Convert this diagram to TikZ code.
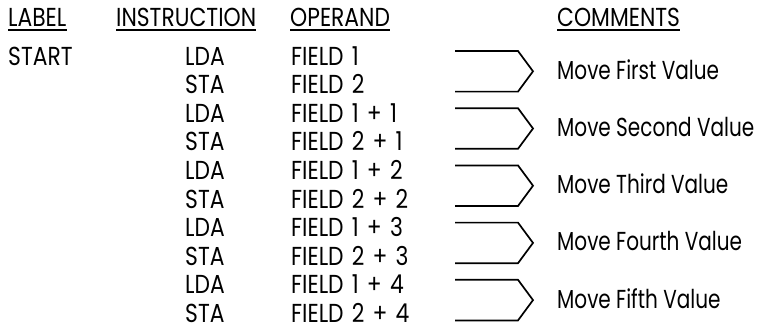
\documentclass[tikz,border=0pt]{standalone}
\usepackage{fontspec}
\setmainfont{Poppins}[FakeStretch=0.84]
\newfontfamily\opfont{Poppins}[FakeStretch=0.84, WordSpace=1.4]
\newfontfamily\cmfont{Poppins}[FakeStretch=0.77]
\usetikzlibrary{calc}

\begin{document}
\begin{tikzpicture}[x=1pt, y=-1pt,
        head/.style={anchor=base west, inner sep=0pt, font=\fontsize{26}{30}\selectfont},
        entry/.style={anchor=base west, inner sep=0pt, font=\fontsize{26}{30}\selectfont},
        operand/.style={anchor=base west, inner sep=0pt, font=\opfont\fontsize{26}{30}\selectfont},
        comment/.style={anchor=base west, inner sep=0pt, font=\cmfont\fontsize{26}{30}\selectfont},
        rule/.style={line width=1.6pt},
        brace/.style={line width=1.7pt, line join=miter}
    ]
        \useasboundingbox (0,0) rectangle (770,330);

        % Column headings
        \node[head] (hlabel) at (8, 26) {LABEL};
        \node[head] (hinstr) at (116, 26) {INSTRUCTION};
        \node[head] (hoper) at (290, 26) {OPERAND};
        \node[head] (hcomm) at (557, 26) {COMMENTS};

        \draw[rule] ($(hlabel.base west)+(0,4)$) -- ($(hlabel.base east)+(0,4)$);
        \draw[rule] ($(hinstr.base west)+(0,4)$) -- ($(hinstr.base east)+(0,4)$);
        \draw[rule] ($(hoper.base west)+(0,4)$) -- ($(hoper.base east)+(0,4)$);
        \draw[rule] ($(hcomm.base west)+(0,4)$) -- ($(hcomm.base east)+(0,4)$);

        % Label
        \node[entry] (start) at (8, 65) {START};

        % Instructions
        \node[entry] (i1) at (185, 65) {LDA};
        \node[entry] (i2) at (185, 93.6) {STA};
        \node[entry] (i3) at (185, 122.2) {LDA};
        \node[entry] (i4) at (185, 150.8) {STA};
        \node[entry] (i5) at (185, 179.4) {LDA};
        \node[entry] (i6) at (185, 208) {STA};
        \node[entry] (i7) at (185, 236.6) {LDA};
        \node[entry] (i8) at (185, 265.2) {STA};
        \node[entry] (i9) at (185, 293.8) {LDA};
        \node[entry] (i10) at (185, 322.4) {STA};

        % Operands
        \node[operand] (o1) at (291, 65) {FIELD 1};
        \node[operand] (o2) at (291, 93.6) {FIELD 2};
        \node[operand] (o3) at (291, 122.2) {FIELD 1 + 1};
        \node[operand] (o4) at (291, 150.8) {FIELD 2 + 1};
        \node[operand] (o5) at (291, 179.4) {FIELD 1 + 2};
        \node[operand] (o6) at (291, 208) {FIELD 2 + 2};
        \node[operand] (o7) at (291, 236.6) {FIELD 1 + 3};
        \node[operand] (o8) at (291, 265.2) {FIELD 2 + 3};
        \node[operand] (o9) at (291, 293.8) {FIELD 1 + 4};
        \node[operand] (o10) at (291, 322.4) {FIELD 2 + 4};

        % Brackets
        \draw[brace] (455, 51) -- (518, 51) -- (533, 71.3) -- (518, 91.6) -- (455, 91.6);
        \draw[brace] (455, 108.2) -- (518, 108.2) -- (533, 128.5) -- (518, 148.8) -- (455, 148.8);
        \draw[brace] (455, 165.4) -- (518, 165.4) -- (533, 185.7) -- (518, 206) -- (455, 206);
        \draw[brace] (455, 222.6) -- (518, 222.6) -- (533, 242.9) -- (518, 263.2) -- (455, 263.2);
        \draw[brace] (455, 279.8) -- (518, 279.8) -- (533, 300.1) -- (518, 320.4) -- (455, 320.4);

        % Comments
        \node[comment] (c1) at (557, 79.3) {Move First Value};
        \node[comment] (c2) at (557, 136.5) {Move Second Value};
        \node[comment] (c3) at (557, 193.7) {Move Third Value};
        \node[comment] (c4) at (557, 250.9) {Move Fourth Value};
        \node[comment] (c5) at (557, 308.1) {Move Fifth Value};
    \end{tikzpicture}
\end{document}
